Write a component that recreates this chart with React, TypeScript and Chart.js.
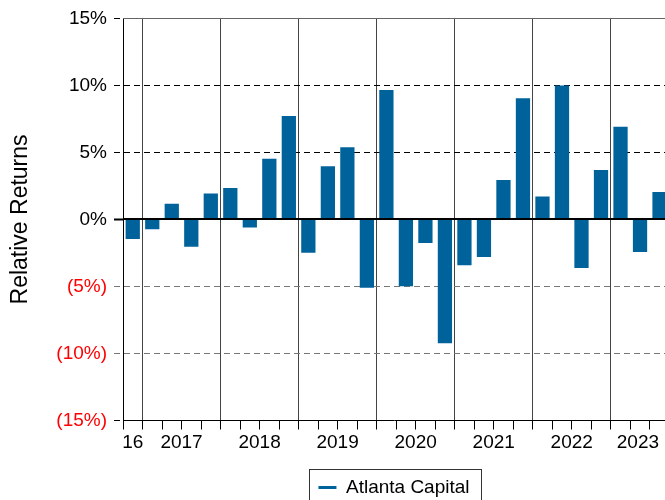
import React, { useEffect, useRef } from 'react';
import { Chart, registerables } from 'chart.js';

Chart.register(...registerables);

// ---- data ----
const quarters = [
  '2016 Q4',
  '2017 Q1', '2017 Q2', '2017 Q3', '2017 Q4',
  '2018 Q1', '2018 Q2', '2018 Q3', '2018 Q4',
  '2019 Q1', '2019 Q2', '2019 Q3', '2019 Q4',
  '2020 Q1', '2020 Q2', '2020 Q3', '2020 Q4',
  '2021 Q1', '2021 Q2', '2021 Q3', '2021 Q4',
  '2022 Q1', '2022 Q2', '2022 Q3', '2022 Q4',
  '2023 Q1', '2023 Q2', '2023 Q3',
];
const relativeReturns = [
  -1.43, -0.71, 1.15, -2.02, 1.92,
  2.33, -0.57, 4.5, 7.69,
  -2.46, 3.95, 5.37, -5.08,
  9.63, -4.95, -1.73, -9.22,
  -3.39, -2.77, 2.92, 9.02,
  1.68, 9.96, -3.59, 3.66,
  6.89, -2.4, 2.03,
];
const yearLabels = ['16', '2017', '2018', '2019', '2020', '2021', '2022', '2023'];
const yTickValues = [-15, -10, -5, 0, 5, 10, 15];
const seriesName = 'Atlanta Capital';
const yTitle = 'Relative Returns';

const X_MAX = 27.78;
const BAR_COLOR = '#00629b';
const FONT = "'Liberation Sans', Arial, Helvetica, sans-serif";

// derived x-axis structure (quarter index units)
const years = Array.from(new Set(quarters.map((q) => q.slice(0, 4))));
const yearStarts = years.map((y) => quarters.findIndex((q) => q.startsWith(y)));
const yearBoundaries = yearStarts.slice(1);
const labelByValue = new Map<number, string>();
years.forEach((_, k) => {
  const start = yearStarts[k];
  const end = k + 1 < years.length ? yearStarts[k + 1] : start + 4;
  const center = (start + Math.min(end, X_MAX)) / 2;
  labelByValue.set(center, yearLabels[k]);
});
const xTickValues = Array.from(
  new Set([
    ...Array.from({ length: Math.floor(X_MAX) + 1 }, (_, i) => i),
    ...Array.from(labelByValue.keys()),
  ])
).sort((a, b) => a - b);

const overlayPlugin = {
  id: 'overlay',
  afterDatasetsDraw(chart: any) {
    const { ctx, chartArea, scales } = chart;
    const y = scales.y;
    ctx.save();
    // zero line
    const y0 = Math.round(y.getPixelForValue(0));
    ctx.strokeStyle = '#000';
    ctx.lineWidth = 2;
    ctx.beginPath();
    ctx.moveTo(chartArea.left, y0);
    ctx.lineTo(chartArea.right, y0);
    ctx.stroke();
    // top frame line
    const yTop = Math.round(y.getPixelForValue(y.max)) + 0.5;
    ctx.strokeStyle = '#666';
    ctx.lineWidth = 1;
    ctx.beginPath();
    ctx.moveTo(chartArea.left, yTop);
    ctx.lineTo(chartArea.right, yTop);
    ctx.stroke();
    ctx.restore();
  },
  afterDraw(chart: any) {
    const hb = chart.legend && chart.legend.legendHitBoxes && chart.legend.legendHitBoxes[0];
    if (!hb) return;
    const { ctx } = chart;
    ctx.save();
    ctx.strokeStyle = '#333';
    ctx.lineWidth = 1;
    const left = Math.round(hb.left - 9) + 0.5;
    const right = Math.round(hb.left + hb.width + 11) + 0.5;
    const top = Math.round(hb.top - 9.5) + 0.5;
    ctx.strokeRect(left, top, right - left, chart.height + 10 - top);
    ctx.restore();
  },
};

export default function App() {
  const canvasRef = useRef<HTMLCanvasElement | null>(null);

  useEffect(() => {
    if (!canvasRef.current) return;
    Chart.defaults.font.family = FONT;
    const chart = new Chart(canvasRef.current, {
      type: 'bar',
      data: {
        datasets: [
          {
            label: seriesName,
            data: relativeReturns.map((v, i) => ({ x: i + 0.5, y: v })),
            backgroundColor: BAR_COLOR,
            borderWidth: 0,
            barThickness: 13.6,
          },
        ],
      },
      options: {
        responsive: false,
        animation: false,
        events: [],
        devicePixelRatio: 1,
        layout: { padding: { top: 17, right: 0, bottom: -7, left: 0 } },
        plugins: {
          tooltip: { enabled: false },
          legend: {
            position: 'bottom',
            fullSize: false,
            align: 'center',
            labels: {
              usePointStyle: true,
              pointStyleWidth: 18,
              padding: 3.5,
              color: '#000',
              font: { size: 19, family: FONT },
              generateLabels: () => [
                {
                  text: seriesName,
                  fillStyle: BAR_COLOR,
                  strokeStyle: BAR_COLOR,
                  lineWidth: 3,
                  pointStyle: 'line',
                  hidden: false,
                  datasetIndex: 0,
                  fontColor: '#000',
                } as any,
              ],
            },
          },
        },
        scales: {
          x: {
            type: 'linear',
            min: 0,
            max: X_MAX,
            offset: false,
            afterBuildTicks: (axis: any) => {
              axis.ticks = xTickValues.map((v) => ({ value: v }));
            },
            afterFit: (axis: any) => {
              axis.height = 54;
            },
            ticks: {
              autoSkip: false,
              maxRotation: 0,
              minRotation: 0,
              padding: 2,
              color: '#000',
              font: { size: 19, family: FONT },
              callback: (v: any) => labelByValue.get(Number(v)) ?? '',
            },
            grid: {
              offset: false,
              lineWidth: 1,
              tickLength: 9,
              color: (ctx: any) =>
                ctx.tick && yearBoundaries.includes(ctx.tick.value) ? '#444' : 'rgba(0,0,0,0)',
              tickColor: (ctx: any) =>
                ctx.tick && Number.isInteger(ctx.tick.value) ? '#000' : 'rgba(0,0,0,0)',
            },
            border: { display: true, color: '#000', width: 1 },
          },
          y: {
            type: 'linear',
            min: yTickValues[0],
            max: yTickValues[yTickValues.length - 1],
            afterBuildTicks: (axis: any) => {
              axis.ticks = yTickValues.map((v) => ({ value: v }));
            },
            afterFit: (axis: any) => {
              axis.width = 123;
            },
            title: {
              display: true,
              text: yTitle,
              color: '#000',
              font: { size: 23, family: FONT },
              padding: { top: 7, bottom: 0 },
            },
            ticks: {
              padding: 7,
              font: { size: 19, family: FONT },
              color: (ctx: any) => (ctx.tick && ctx.tick.value < 0 ? '#ff0000' : '#000'),
              callback: (v: any) => (Number(v) < 0 ? `(${-Number(v)}%)` : `${v}%`),
            },
            grid: {
              lineWidth: 1,
              tickLength: 9,
              color: (ctx: any) => {
                const v = ctx.tick ? ctx.tick.value : 0;
                if (v === 0 || v === 15 || v === -15) return 'rgba(0,0,0,0)';
                return v < 0 ? '#777' : '#000';
              },
              tickColor: (ctx: any) => {
                const v = ctx.tick ? ctx.tick.value : 0;
                if (v === 0 || v === 15 || v === -15) return '#000';
                return v < 0 ? '#777' : '#000';
              },
              tickWidth: (ctx: any) => (ctx.tick && ctx.tick.value === 0 ? 2 : 1),
              tickBorderDash: (ctx: any) => (ctx.tick && ctx.tick.value === 0 ? [] : [6, 4]),
            },
            border: { display: true, color: '#000', width: 1, dash: [6, 4] },
          },
        },
      },
      plugins: [overlayPlugin],
    } as any);
    return () => chart.destroy();
  }, []);

  return (
    <div style={{ position: 'absolute', left: 0, top: 0, width: 665, height: 500, background: '#fff' }}>
      <canvas ref={canvasRef} width={665} height={500} />
    </div>
  );
}
